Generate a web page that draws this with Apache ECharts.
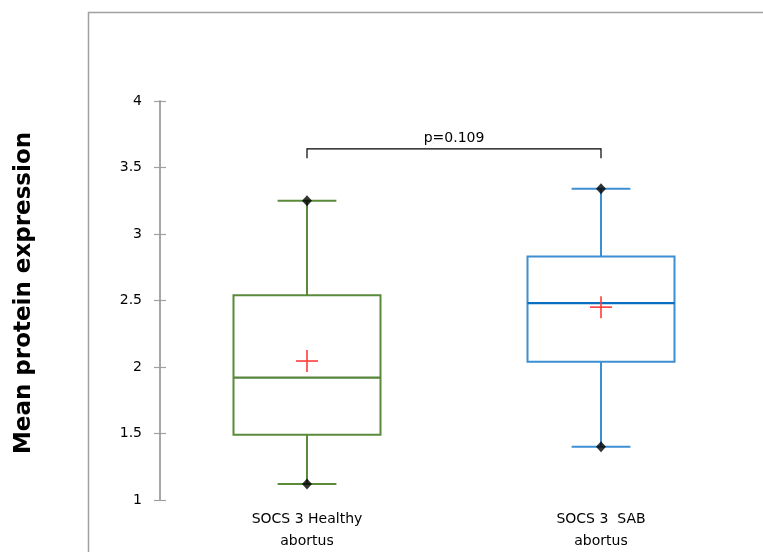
<!DOCTYPE html>
<html>
<head>
<meta charset="utf-8">
<script src="https://cdn.jsdelivr.net/npm/echarts@6/dist/echarts.min.js"></script>
<style>html,body{margin:0;padding:0;background:#fff}#c{width:763px;height:552px}</style>
</head>
<body>
<div id="c"></div>
<script>
var categories = ['SOCS 3 Healthy\nabortus', 'SOCS 3  SAB\nabortus'];
var whiskerLow = [1.12, 1.40];
var q1 = [1.49, 2.04];
var median = [1.92, 2.48];
var q3 = [2.54, 2.83];
var whiskerHigh = [3.25, 3.34];
var means = [2.045, 2.45];
var yTicks = { min: 1, max: 4, interval: 0.5 };
var bracket = { y: 3.64, foot: 3.57, label: 'p=0.109' };
var axisTitle = 'Mean protein expression';

var strokeColors = ['#5a8a3a', '#3d8fd4'];
var medianColors = ['#55853a', '#0a6fc0'];

var boxData = categories.map(function (c, i) {
  return [i, whiskerLow[i], q1[i], median[i], q3[i], whiskerHigh[i]];
});
var whiskerPts = [];
categories.forEach(function (c, i) {
  whiskerPts.push([i, whiskerLow[i]]);
  whiskerPts.push([i, whiskerHigh[i]]);
});
var meanPts = categories.map(function (c, i) { return [i, means[i]]; });

var chart = echarts.init(document.getElementById('c'));
var FONT = 'DejaVu Sans';

chart.setOption({
  animation: false,
  backgroundColor: '#fff',
  grid: { left: 160, right: 15, top: 101, bottom: 50 },
  xAxis: {
    type: 'category',
    data: categories,
    axisLine: { show: false },
    axisTick: { show: false },
    splitLine: { show: false },
    axisLabel: { color: '#000', fontFamily: FONT, fontSize: 14, lineHeight: 22, margin: 8 }
  },
  yAxis: [{
    type: 'value',
    min: yTicks.min, max: yTicks.max, interval: yTicks.interval,
    axisLine: { show: true, lineStyle: { color: '#a0a0a0', width: 1.5 } },
    axisTick: { show: true, length: 6, lineStyle: { color: '#a0a0a0', width: 1.2 } },
    splitLine: { show: false },
    axisLabel: { color: '#000', fontFamily: FONT, fontSize: 14, margin: 18 }
  }, {
    type: 'value', position: 'left', offset: 0,
    min: yTicks.min, max: yTicks.max, interval: yTicks.interval,
    axisLine: { show: true, lineStyle: { color: '#a0a0a0', width: 1.5 } },
    axisTick: { show: true, inside: true, length: 6, lineStyle: { color: '#a0a0a0', width: 1.2 } },
    splitLine: { show: false },
    axisLabel: { show: false }
  }],
  graphic: [
    { type: 'rect', shape: { x: 88.5, y: 12.5, width: 800, height: 700 },
      style: { fill: 'none', stroke: '#a0a0a0', lineWidth: 1.5 }, silent: true, z: -1 },
    { type: 'text', x: 24, y: 293, rotation: Math.PI / 2,
      style: { text: axisTitle, font: 'bold 23px "DejaVu Sans"', fill: '#000', align: 'center', verticalAlign: 'middle' } }
  ],
  series: [
    {
      type: 'custom',
      data: boxData,
      encode: { x: 0, y: [1, 2, 3, 4, 5] },
      renderItem: function (params, api) {
        var i = api.value(0);
        var band = api.size([1, 0])[0];
        var hw = band * 0.25, cw = band * 0.1;
        var pLow = api.coord([i, api.value(1)]);
        var pQ1 = api.coord([i, api.value(2)]);
        var pMed = api.coord([i, api.value(3)]);
        var pQ3 = api.coord([i, api.value(4)]);
        var pHigh = api.coord([i, api.value(5)]);
        var x = pMed[0];
        var col = strokeColors[i], mcol = medianColors[i];
        var ls = { stroke: col, lineWidth: 2, fill: 'none' };
        return {
          type: 'group',
          children: [
            { type: 'rect', shape: { x: x - hw, y: pQ3[1], width: 2 * hw, height: pQ1[1] - pQ3[1] }, style: ls },
            { type: 'line', shape: { x1: x - hw, y1: pMed[1], x2: x + hw, y2: pMed[1] }, style: { stroke: mcol, lineWidth: 2.2 } },
            { type: 'line', shape: { x1: x, y1: pQ3[1], x2: x, y2: pHigh[1] }, style: ls },
            { type: 'line', shape: { x1: x, y1: pQ1[1], x2: x, y2: pLow[1] }, style: ls },
            { type: 'line', shape: { x1: x - cw, y1: pHigh[1], x2: x + cw, y2: pHigh[1] }, style: ls },
            { type: 'line', shape: { x1: x - cw, y1: pLow[1], x2: x + cw, y2: pLow[1] }, style: ls }
          ]
        };
      },
      z: 2
    },
    {
      type: 'scatter',
      data: whiskerPts,
      symbol: 'diamond',
      symbolSize: [10, 11],
      itemStyle: { color: '#000' },
      z: 4
    },
    {
      type: 'custom',
      yAxisIndex: 1,
      data: meanPts,
      renderItem: function (params, api) {
        var p = api.coord([api.value(0), api.value(1)]);
        var s = 11;
        var st = { stroke: '#ff3b3b', lineWidth: 1.6 };
        return {
          type: 'group',
          children: [
            { type: 'line', shape: { x1: p[0] - s, y1: p[1], x2: p[0] + s, y2: p[1] }, style: st },
            { type: 'line', shape: { x1: p[0], y1: p[1] - s, x2: p[0], y2: p[1] + s }, style: st }
          ]
        };
      },
      z: 5
    },
    {
      type: 'custom',
      data: [[0, 1, bracket.y, bracket.foot]],
      renderItem: function (params, api) {
        var a = api.coord([api.value(0), api.value(2)]);
        var b = api.coord([api.value(1), api.value(2)]);
        var af = api.coord([api.value(0), api.value(3)]);
        var st = { stroke: '#000', lineWidth: 1.2, fill: 'none' };
        return {
          type: 'group',
          children: [
            { type: 'polyline', shape: { points: [[a[0], af[1]], [a[0], a[1]], [b[0], b[1]], [b[0], af[1]]] }, style: st },
            { type: 'text', x: (a[0] + b[0]) / 2, y: a[1] - 4,
              style: { text: bracket.label, font: '14px "DejaVu Sans"', fill: '#000', align: 'center', verticalAlign: 'bottom' } }
          ]
        };
      },
      z: 3
    }
  ]
});
</script>
</body>
</html>
